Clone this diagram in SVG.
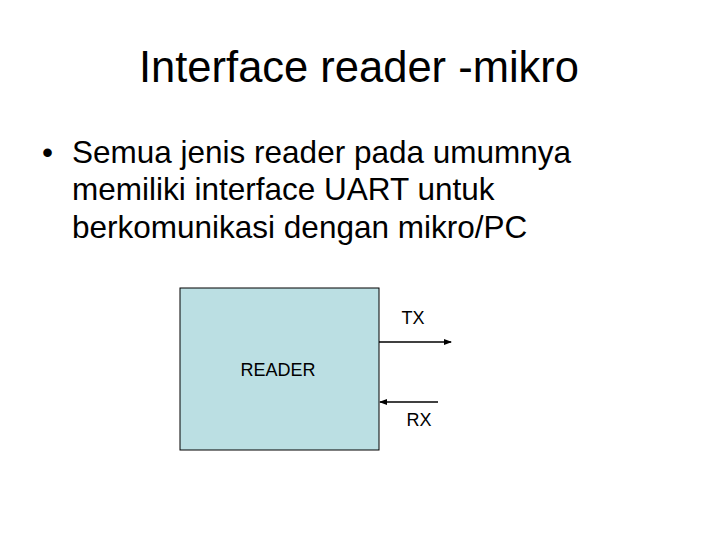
<svg xmlns="http://www.w3.org/2000/svg" width="720" height="540" viewBox="0 0 720 540">
<style>text{font-family:"Liberation Sans",Arial,sans-serif;fill:#000}.s{font-size:18px}.b{font-size:31.5px}</style>
<defs><marker id="a" markerWidth="8" markerHeight="8" refX="7" refY="3" orient="auto" markerUnits="userSpaceOnUse"><path d="M0,0L8,3L0,6z" fill="#000"/></marker></defs>
<rect width="720" height="540" fill="#fff"/>
<text x="359" y="82" font-size="43.5" text-anchor="middle">Interface reader -mikro</text>
<text class="b" x="42" y="163">•</text>
<text class="b" x="72" y="163">Semua jenis reader pada umumnya</text>
<text class="b" x="72" y="200">memiliki interface UART untuk</text>
<text class="b" x="72" y="238">berkomunikasi dengan mikro/PC</text>
<g id="reader"><rect x="180" y="288" width="199" height="162" fill="#bbdfe3" stroke="#000" stroke-width="1"/><text class="s" x="278" y="376" text-anchor="middle">READER</text></g>
<g id="connectors">
<line x1="379" y1="342" x2="451" y2="342" stroke="#000" stroke-width="1.5" marker-end="url(#a)"/>
<line x1="438" y1="402" x2="380" y2="402" stroke="#000" stroke-width="1.5" marker-end="url(#a)"/>
</g>
<text class="s" x="413" y="324" text-anchor="middle">TX</text>
<text class="s" x="419" y="426" text-anchor="middle">RX</text>
</svg>
